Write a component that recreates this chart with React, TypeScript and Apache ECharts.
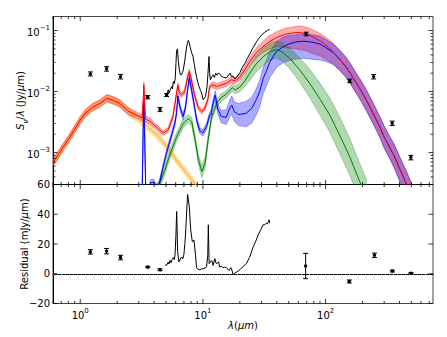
import React, { useEffect, useRef } from "react";
import * as echarts from "echarts";

const FONT = "DejaVu Sans";

// ---------- data ----------
// rows: [wavelength (um), S/lambda (Jy/um), band up (dex), band down (dex)]
const stellarModel: number[][] = [
  [0.6, 6.8e-4, 0.06, 0.06], [0.7, 1.1e-3, 0.06, 0.06], [0.8, 1.65e-3, 0.06, 0.06],
  [0.9, 2.4e-3, 0.06, 0.06], [1.0, 3.4e-3, 0.06, 0.06], [1.1, 4.4e-3, 0.06, 0.06],
  [1.25, 5.5e-3, 0.06, 0.06], [1.45, 6.4e-3, 0.06, 0.06], [1.65, 7.8e-3, 0.06, 0.06],
  [1.85, 7.2e-3, 0.06, 0.06], [2.1, 6.4e-3, 0.06, 0.06], [2.45, 4.8e-3, 0.06, 0.06],
  [3.0, 3.5e-3, 0.06, 0.06], [3.5, 2.7e-3, 0.06, 0.06], [4.2, 1.95e-3, 0.06, 0.06],
  [5.0, 1.3e-3, 0.06, 0.06], [6.0, 7.8e-4, 0.06, 0.06], [7.0, 5.2e-4, 0.06, 0.06],
  [8.0, 3.7e-4, 0.06, 0.06], [9.0, 2.7e-4, 0.06, 0.06], [10.0, 2.0e-4, 0.06, 0.06],
];

const totalModel: number[][] = [
  [0.6, 6.8e-4, 0.06, 0.06], [0.7, 1.1e-3, 0.06, 0.06], [0.8, 1.65e-3, 0.06, 0.06],
  [0.9, 2.4e-3, 0.06, 0.06], [1.0, 3.4e-3, 0.06, 0.06], [1.1, 4.4e-3, 0.06, 0.06],
  [1.25, 5.5e-3, 0.06, 0.06], [1.45, 6.4e-3, 0.06, 0.06], [1.65, 7.8e-3, 0.06, 0.06],
  [1.85, 7.2e-3, 0.06, 0.06], [2.1, 6.4e-3, 0.06, 0.06], [2.45, 4.8e-3, 0.06, 0.06],
  [3.0, 3.95e-3, 0.05, 0.05], [3.2, 3.7e-3, 0.05, 0.05], [3.27, 8e-3, 0.05, 0.05],
  [3.3, 0.013, 0.05, 0.05], [3.33, 8e-3, 0.05, 0.05], [3.4, 3.55e-3, 0.05, 0.05],
  [3.7, 3.25e-3, 0.05, 0.05], [4.2, 2.6e-3, 0.04, 0.04], [4.75, 2.1e-3, 0.04, 0.04],
  [5.2, 2.35e-3, 0.04, 0.04], [5.7, 3.9e-3, 0.04, 0.04], [6.05, 8.5e-3, 0.04, 0.04],
  [6.25, 0.0128, 0.04, 0.04], [6.45, 9.5e-3, 0.04, 0.04], [6.7, 8.8e-3, 0.04, 0.04],
  [7.1, 0.01, 0.04, 0.04], [7.5, 0.0175, 0.04, 0.04], [7.75, 0.0213, 0.04, 0.04],
  [8.0, 0.0165, 0.04, 0.04], [8.3, 0.0115, 0.04, 0.04], [8.6, 8.3e-3, 0.04, 0.04],
  [9.2, 5.4e-3, 0.04, 0.04], [9.8, 4.7e-3, 0.04, 0.04], [10.4, 5.4e-3, 0.04, 0.04],
  [11.0, 7.6e-3, 0.04, 0.04], [11.3, 0.0115, 0.04, 0.04], [11.6, 0.0125, 0.04, 0.04],
  [12.1, 0.0129, 0.05, 0.05], [12.9, 0.0121, 0.05, 0.05], [14.1, 0.0129, 0.05, 0.05],
  [15.5, 0.0136, 0.05, 0.05], [16.6, 0.015, 0.05, 0.05], [17.2, 0.0157, 0.05, 0.05],
  [18.2, 0.0148, 0.05, 0.05], [20, 0.0172, 0.05, 0.05], [22, 0.023, 0.06, 0.06],
  [24.1, 0.031, 0.07, 0.07], [27, 0.042, 0.08, 0.08], [30, 0.052, 0.09, 0.09],
  [35, 0.066, 0.1, 0.12], [40, 0.077, 0.1, 0.15], [47, 0.087, 0.1, 0.22],
  [55, 0.092, 0.1, 0.26], [62, 0.093, 0.11, 0.28], [70, 0.088, 0.11, 0.28],
  [80, 0.077, 0.12, 0.27], [90, 0.068, 0.12, 0.25], [100, 0.058, 0.13, 0.23],
  [115, 0.045, 0.14, 0.2], [130, 0.034, 0.15, 0.18], [145, 0.026, 0.16, 0.17],
  [160, 0.0195, 0.16, 0.17], [175, 0.0145, 0.16, 0.17], [190, 0.0112, 0.16, 0.17],
  [215, 7.2e-3, 0.17, 0.17], [245, 4.3e-3, 0.17, 0.17], [275, 2.7e-3, 0.17, 0.17],
  [300, 1.8e-3, 0.18, 0.18], [330, 1.25e-3, 0.18, 0.18], [360, 9e-4, 0.19, 0.19],
  [400, 5.5e-4, 0.2, 0.2], [430, 4e-4, 0.2, 0.2], [460, 2.9e-4, 0.21, 0.21],
  [500, 1.9e-4, 0.22, 0.22],
];

const warmDustModel: number[][] = [
  [3.0, 1e-5, 0.05, 0.05], [3.2, 2.5e-4, 0.05, 0.05], [3.26, 2.5e-3, 0.05, 0.05],
  [3.3, 6.5e-3, 0.05, 0.05], [3.34, 2.5e-3, 0.05, 0.05], [3.42, 2.5e-4, 0.05, 0.05],
  [3.55, 2.2e-4, 0.05, 0.05], [3.75, 3.2e-4, 0.05, 0.05], [3.95, 3.3e-4, 0.05, 0.05],
  [4.15, 2.7e-4, 0.05, 0.05], [4.4, 3.0e-4, 0.05, 0.05], [4.7, 5.5e-4, 0.05, 0.05],
  [5.06, 1.0e-3, 0.05, 0.05], [5.5, 1.8e-3, 0.05, 0.05], [5.9, 3.0e-3, 0.05, 0.05],
  [6.1, 4.5e-3, 0.05, 0.05], [6.25, 8.5e-3, 0.05, 0.05], [6.4, 6.5e-3, 0.05, 0.05],
  [6.6, 5.0e-3, 0.05, 0.05], [6.9, 3.9e-3, 0.05, 0.05], [7.2, 5.4e-3, 0.05, 0.05],
  [7.5, 0.0107, 0.05, 0.05], [7.75, 0.017, 0.05, 0.05], [8.05, 0.011, 0.05, 0.05],
  [8.35, 7.3e-3, 0.05, 0.05], [8.9, 3.4e-3, 0.05, 0.05], [9.4, 2.3e-3, 0.05, 0.05],
  [10.0, 2.1e-3, 0.05, 0.05], [10.7, 2.7e-3, 0.05, 0.05], [11.3, 4.0e-3, 0.05, 0.05],
  [11.6, 4.3e-3, 0.05, 0.05], [12.0, 6.0e-3, 0.06, 0.06], [12.6, 8.8e-3, 0.07, 0.07],
  [13.2, 5.2e-3, 0.08, 0.08], [14.1, 3.9e-3, 0.1, 0.1], [15.5, 3.8e-3, 0.12, 0.12],
  [16.6, 5.4e-3, 0.14, 0.14], [17.2, 6.0e-3, 0.15, 0.15], [18, 4.7e-3, 0.16, 0.16],
  [19.5, 4.2e-3, 0.18, 0.18], [22.5, 4.4e-3, 0.2, 0.22], [25, 5.3e-3, 0.18, 0.24],
  [27.3, 7.5e-3, 0.18, 0.25], [29, 0.01, 0.18, 0.25], [31, 0.0165, 0.18, 0.25],
  [33, 0.022, 0.18, 0.25], [35, 0.03, 0.18, 0.25], [37.5, 0.038, 0.16, 0.26],
  [40, 0.046, 0.16, 0.26], [45, 0.054, 0.16, 0.26], [50, 0.06, 0.14, 0.27],
  [57, 0.065, 0.12, 0.28], [65, 0.067, 0.12, 0.28], [72, 0.066, 0.12, 0.28],
  [80, 0.064, 0.12, 0.28], [90, 0.06, 0.13, 0.26], [100, 0.053, 0.13, 0.23],
  [115, 0.044, 0.14, 0.2], [130, 0.034, 0.15, 0.18], [145, 0.026, 0.16, 0.17],
  [160, 0.0195, 0.16, 0.17], [175, 0.0145, 0.16, 0.17], [190, 0.0112, 0.16, 0.17],
  [215, 7.2e-3, 0.17, 0.17], [245, 4.3e-3, 0.17, 0.17], [275, 2.7e-3, 0.17, 0.17],
  [300, 1.8e-3, 0.18, 0.18], [330, 1.25e-3, 0.18, 0.18], [360, 9e-4, 0.19, 0.19],
  [400, 5.5e-4, 0.2, 0.2], [430, 4e-4, 0.2, 0.2], [460, 2.9e-4, 0.21, 0.21],
  [500, 1.9e-4, 0.22, 0.22],
];

const coldDustModel: number[][] = [
  [4.0, 2.0e-4, 0.07, 0.07], [4.47, 3.2e-4, 0.07, 0.07], [4.9, 5.2e-4, 0.07, 0.07],
  [5.4, 9.5e-4, 0.07, 0.07], [6.1, 1.8e-3, 0.07, 0.07], [6.9, 3.0e-3, 0.07, 0.07],
  [7.6, 3.6e-3, 0.07, 0.07], [8.1, 3.2e-3, 0.07, 0.07], [8.6, 1.7e-3, 0.07, 0.07],
  [9.2, 7.6e-4, 0.08, 0.08], [9.8, 4.9e-4, 0.1, 0.1], [10.4, 6.7e-4, 0.09, 0.09],
  [11.1, 1.8e-3, 0.07, 0.07], [11.8, 3.9e-3, 0.06, 0.06], [12.9, 6.3e-3, 0.06, 0.06],
  [14.1, 8.0e-3, 0.06, 0.06], [15.5, 9.0e-3, 0.06, 0.06], [16.6, 0.0105, 0.06, 0.06],
  [17.4, 0.0116, 0.06, 0.06], [18.3, 0.0106, 0.06, 0.06], [20, 0.0118, 0.07, 0.07],
  [22, 0.015, 0.09, 0.09], [24.1, 0.02, 0.12, 0.12], [27, 0.028, 0.13, 0.13],
  [30.9, 0.037, 0.14, 0.14], [35, 0.045, 0.14, 0.14], [39.5, 0.049, 0.14, 0.14],
  [44, 0.045, 0.15, 0.15], [51, 0.035, 0.17, 0.17], [61.5, 0.0227, 0.2, 0.2],
  [74, 0.0137, 0.23, 0.23], [89, 7.8e-3, 0.26, 0.26], [108, 4.15e-3, 0.28, 0.28],
  [130, 1.94e-3, 0.3, 0.3], [157, 8.6e-4, 0.3, 0.3], [189, 3.4e-4, 0.3, 0.3],
  [215, 1.8e-4, 0.3, 0.3],
];

// [wavelength, S/lambda]
const irsSpectrum: number[][] = [
  [5.0, 8.5e-3], [5.1, 9.2e-3], [5.22, 0.0107], [5.3, 9.5e-3], [5.4, 0.0105], [5.56, 0.0121],
  [5.65, 0.011], [5.74, 0.0146], [5.85, 0.0135], [5.95, 0.0166], [6.03, 0.029], [6.1, 0.046],
  [6.2, 0.05], [6.3, 0.032], [6.42, 0.0227], [6.55, 0.019], [6.7, 0.0188], [6.8, 0.0205],
  [6.92, 0.0227], [7.13, 0.033], [7.36, 0.054], [7.5, 0.064], [7.6, 0.069], [7.75, 0.062],
  [7.9, 0.052], [8.1, 0.043], [8.3, 0.038], [8.5, 0.028], [8.7, 0.021], [8.87, 0.0176],
  [9.1, 0.014], [9.3, 0.0121], [9.55, 0.0105], [9.78, 9.4e-3], [10.05, 7.3e-3], [10.3, 7.8e-3],
  [10.5, 8.3e-3], [10.8, 0.0121], [11.0, 0.02], [11.2, 0.0375], [11.35, 0.02], [11.5, 0.0156],
  [11.8, 0.0175], [12.1, 0.0188], [12.4, 0.017], [12.7, 0.02], [13.0, 0.0185], [13.3, 0.02],
  [13.7, 0.0195], [14.2, 0.0176], [14.8, 0.0172], [15.5, 0.0166], [16.0, 0.018], [16.6, 0.02],
  [17.1, 0.0176], [17.6, 0.018], [18.2, 0.016], [18.8, 0.0172], [20, 0.0205], [21, 0.025],
  [22, 0.029], [23, 0.035], [24.1, 0.0415], [25.3, 0.05], [26.4, 0.058], [27.7, 0.068],
  [29.1, 0.078], [30.5, 0.087], [31.9, 0.094], [33.5, 0.1], [35, 0.105],
];

// [wavelength, S/lambda, error]
const photometry: number[][] = [
  [1.21, 0.0195, 0.0015], [1.64, 0.0236, 0.002], [2.13, 0.0176, 0.0015],
  [3.55, 8.1e-3, 5e-4], [4.47, 5.1e-3, 4e-4], [5.06, 8.8e-3, 5e-4],
  [69.5, 0.088, 0.006], [157, 0.015, 0.001], [246, 0.0176, 0.0015],
  [349, 3.03e-3, 2.5e-4], [495, 8.3e-4, 7e-5],
];

// residuals in mJy/um: [wavelength, residual]
const residualSpectrum: number[][] = [
  [4.91, 6.1], [5.05, 5.5], [5.22, 7.9], [5.3, 6.5], [5.39, 9], [5.5, 7.5], [5.6, 9.5],
  [5.74, 10.9], [5.85, 9.5], [5.92, 12.4], [6.02, 25], [6.11, 41.9], [6.16, 30], [6.22, 15],
  [6.38, 7.9], [6.55, 10], [6.7, 11.3], [6.85, 10], [7.0, 13], [7.13, 20.4], [7.25, 30],
  [7.36, 40.8], [7.5, 53.3], [7.6, 50], [7.74, 45.3], [7.95, 29.5], [8.2, 21.5], [8.45, 22.7],
  [8.7, 12.4], [8.87, 4.1], [9.1, 3], [9.43, 2.7], [9.7, 3.2], [10.05, 3.4], [10.4, 3.8],
  [10.7, 4.5], [10.95, 12], [11.07, 32.9], [11.2, 12], [11.25, 6.8], [11.5, 8], [11.8, 9],
  [12.1, 5.6], [12.5, 10.2], [12.8, 7], [13.0, 6.8], [13.4, 8], [13.7, 4.5], [14.2, 5],
  [14.6, 4.1], [15.0, 4.5], [15.5, 4.1], [16.0, 3], [16.3, 2.2], [16.9, 4.1], [17.3, 2],
  [17.6, -0.5], [18.2, 0.5], [18.8, 1.1], [20, 2.7], [21, 4.5], [22.6, 6.8], [24, 11],
  [25.7, 18.1], [27, 22], [28.2, 26.1], [30, 30.5], [30.9, 32.9], [32, 33], [32.8, 34],
  [33.5, 33.5], [34.2, 35], [34.6, 36.3], [35, 34],
];

// [wavelength, residual, error]
const residualPhotometry: number[][] = [
  [1.21, 14.7, 1.5], [1.64, 15.2, 1.8], [2.13, 10.9, 1.5], [3.55, 4.5, 0.5], [4.47, 2.7, 0.6],
  [68.7, 5.2, 8.5], [156, -5.2, 1.0], [250, 12.4, 1.5], [350, 1.8, 0.6], [496, 0.4, 0.4],
];

// tick positions
const xMajorTicks = [1, 10, 100];
const xMinorTicks = [0.6, 0.7, 0.8, 0.9, 2, 3, 4, 5, 6, 7, 8, 9, 20, 30, 40, 50, 60, 70, 80, 90, 200, 300, 400, 500, 600, 700];
const yMajorTicksTop = [1e-3, 1e-2, 1e-1];
const yMinorTicksTop = [
  4e-4, 5e-4, 6e-4, 7e-4, 8e-4, 9e-4,
  2e-3, 3e-3, 4e-3, 5e-3, 6e-3, 7e-3, 8e-3, 9e-3,
  2e-2, 3e-2, 4e-2, 5e-2, 6e-2, 7e-2, 8e-2, 9e-2,
];
const yTicksBottom = [-20, 0, 20, 40, 60];

// ---------- helpers ----------
const MINUS = "\u2212";

function logLabel(v: number): string {
  const e = Math.log10(v);
  const r = Math.round(e);
  if (Math.abs(e - r) > 1e-6) return "";
  return `{b|10}{sup|${r < 0 ? MINUS + -r : r}}`;
}

const supRich = {
  b: { fontSize: 10, fontFamily: FONT, color: "#000", lineHeight: 13, verticalAlign: "bottom" },
  sup: { fontSize: 7, fontFamily: FONT, color: "#000", lineHeight: 13, verticalAlign: "top" },
};

function bandSeries(rows: number[][], fill: string, gi: number, z: number) {
  return {
    type: "custom",
    xAxisIndex: gi,
    yAxisIndex: gi,
    clip: true,
    silent: true,
    z,
    encode: { x: 0, y: 1 },
    data: rows.map((r) => [r[0], r[1]]),
    renderItem: (params: any, api: any) => {
      if (params.dataIndex !== 0) return;
      const upper = rows.map((r) => api.coord([r[0], r[1] * Math.pow(10, r[2])]));
      const lower = rows.map((r) => api.coord([r[0], r[1] / Math.pow(10, r[3])])).reverse();
      return {
        type: "polygon",
        shape: { points: upper.concat(lower) },
        style: { fill, stroke: fill, lineWidth: 1 },
      };
    },
  };
}

function lineSeries(rows: number[][], color: string, gi: number, z: number, extra: any = {}) {
  return {
    type: "line",
    xAxisIndex: gi,
    yAxisIndex: gi,
    data: rows.map((r) => [r[0], r[1]]),
    showSymbol: false,
    symbol: "none",
    clip: true,
    silent: true,
    z,
    lineStyle: { color, width: 1 },
    ...extra,
  };
}

function errorSeries(rows: number[][], gi: number) {
  return {
    type: "custom",
    xAxisIndex: gi,
    yAxisIndex: gi,
    silent: true,
    z: 20,
    encode: { x: 0, y: 1 },
    data: rows,
    renderItem: (_p: any, api: any) => {
      const x = api.value(0);
      const y = api.value(1);
      const e = api.value(2);
      const c = api.coord([x, y]);
      const lo = api.coord([x, y - e]);
      const hi = api.coord([x, y + e]);
      const cap = 2.5;
      const st = { stroke: "#000", lineWidth: 1 };
      return {
        type: "group",
        children: [
          { type: "line", shape: { x1: c[0], y1: lo[1], x2: c[0], y2: hi[1] }, style: st },
          { type: "line", shape: { x1: c[0] - cap, y1: hi[1], x2: c[0] + cap, y2: hi[1] }, style: st },
          { type: "line", shape: { x1: c[0] - cap, y1: lo[1], x2: c[0] + cap, y2: lo[1] }, style: st },
          { type: "circle", shape: { cx: c[0], cy: c[1], r: 1.7 }, style: { fill: "#000" } },
        ],
      };
    },
  };
}

function tickSeries(gi: number, refPoint: number[], xMaj: number[], xMin: number[], yMaj: number[], yMin: number[]) {
  return {
    type: "custom",
    xAxisIndex: gi,
    yAxisIndex: gi,
    silent: true,
    z: 30,
    encode: { x: 0, y: 1 },
    data: [refPoint],
    renderItem: (params: any, api: any) => {
      const cs = params.coordSys;
      const top = cs.y;
      const bot = cs.y + cs.height;
      const left = cs.x;
      const right = cs.x + cs.width;
      const ch: any[] = [];
      const st = { stroke: "#000", lineWidth: 0.8 };
      const add = (x1: number, y1: number, x2: number, y2: number) =>
        ch.push({ type: "line", shape: { x1, y1, x2, y2 }, style: st });
      xMaj.forEach((v) => {
        const x = api.coord([v, refPoint[1]])[0];
        add(x, bot, x, bot - 4.5);
        add(x, top, x, top + 4.5);
      });
      xMin.forEach((v) => {
        const x = api.coord([v, refPoint[1]])[0];
        add(x, bot, x, bot - 2.5);
        add(x, top, x, top + 2.5);
      });
      yMaj.forEach((v) => {
        const y = api.coord([refPoint[0], v])[1];
        add(left, y, left + 4.5, y);
        add(right, y, right - 4.5, y);
      });
      yMin.forEach((v) => {
        const y = api.coord([refPoint[0], v])[1];
        add(left, y, left + 2.5, y);
        add(right, y, right - 2.5, y);
      });
      return { type: "group", children: ch };
    },
  };
}

const ORANGE_FILL = "rgba(255,165,0,0.35)";
const RED_FILL = "rgba(255,0,0,0.33)";
const BLUE_FILL = "rgba(0,0,255,0.33)";
const GREEN_FILL = "rgba(0,128,0,0.3)";

export default function App() {
  const ref = useRef<HTMLDivElement>(null);

  useEffect(() => {
    if (!ref.current) return;
    const chart = echarts.init(ref.current, undefined, { renderer: "svg" });

    const baseX = {
      type: "log",
      logBase: 10,
      min: 0.6,
      max: 750,
      axisTick: { show: false },
      splitLine: { show: false },
      axisLine: { show: true, lineStyle: { color: "#000", width: 1 } },
    };

    const option: any = {
      animation: false,
      backgroundColor: "#fff",
      grid: [
        { left: 53, top: 16.5, width: 380, height: 168, show: true, borderColor: "#444", borderWidth: 1, containLabel: false, outerBoundsMode: "none" },
        { left: 53, top: 184.5, width: 380, height: 119, show: true, borderColor: "#444", borderWidth: 1, containLabel: false, outerBoundsMode: "none" },
      ],
      xAxis: [
        { ...baseX, gridIndex: 0, axisLabel: { show: false } },
        {
          ...baseX,
          gridIndex: 1,
          axisLabel: { formatter: logLabel, rich: supRich, margin: 4 },
          name: "{i|λ}{n|(}{i|μm}{n|)}",
          nameLocation: "middle",
          nameGap: 17,
          nameMoveOverlap: false,
          nameTextStyle: {
            rich: {
              i: { fontSize: 10, fontFamily: FONT, fontStyle: "italic", color: "#000" },
              n: { fontSize: 10, fontFamily: FONT, color: "#000" },
            },
          },
        },
      ],
      yAxis: [
        {
          type: "log",
          logBase: 10,
          gridIndex: 0,
          min: 3e-4,
          max: 0.17,
          axisTick: { show: false },
          splitLine: { show: false },
          axisLine: { show: true, lineStyle: { color: "#000", width: 1 } },
          axisLabel: { formatter: logLabel, rich: supRich, margin: 3 },
          name: "{i|S}{sub|ν}{n|/}{i|λ}{n| (Jy/}{i|μ}{n|m)}",
          nameLocation: "middle",
          nameGap: 24,
          nameMoveOverlap: false,
          nameRotate: 90,
          nameTextStyle: {
            rich: {
              i: { fontSize: 10, fontFamily: FONT, fontStyle: "italic", color: "#000", lineHeight: 14, verticalAlign: "top" },
              n: { fontSize: 10, fontFamily: FONT, color: "#000", lineHeight: 14, verticalAlign: "top" },
              sub: { fontSize: 7, fontFamily: FONT, fontStyle: "italic", color: "#000", lineHeight: 14, verticalAlign: "bottom" },
            },
          },
        },
        {
          type: "value",
          gridIndex: 1,
          min: -20,
          max: 60,
          interval: 20,
          axisTick: { show: false },
          splitLine: { show: false },
          axisLine: { show: true, lineStyle: { color: "#000", width: 1 } },
          axisLabel: {
            formatter: (v: number) => (v < 0 ? MINUS + -v : String(v)),
            fontSize: 10,
            fontFamily: FONT,
            color: "#000",
            margin: 3,
          },
          name: "{n|Residual (mJy/}{i|μ}{n|m)}",
          nameLocation: "middle",
          nameGap: 24,
          nameMoveOverlap: false,
          nameRotate: 90,
          nameTextStyle: {
            rich: {
              i: { fontSize: 10, fontFamily: FONT, fontStyle: "italic", color: "#000" },
              n: { fontSize: 10, fontFamily: FONT, color: "#000" },
            },
          },
        },
      ],
      series: [
        bandSeries(stellarModel, ORANGE_FILL, 0, 2),
        bandSeries(totalModel, RED_FILL, 0, 2),
        bandSeries(warmDustModel, BLUE_FILL, 0, 2),
        bandSeries(coldDustModel, GREEN_FILL, 0, 2),
        lineSeries(stellarModel, "#ffa500", 0, 5),
        lineSeries(coldDustModel, "#008000", 0, 5),
        lineSeries(warmDustModel, "#0000ff", 0, 5),
        lineSeries(totalModel, "#ff0000", 0, 5),
        lineSeries(irsSpectrum, "#000000", 0, 6),
        errorSeries(photometry, 0),
        lineSeries(residualSpectrum, "#000000", 1, 6, {
          markLine: {
            silent: true,
            symbol: ["none", "none"],
            label: { show: false },
            lineStyle: { type: [1, 3], color: "#999", width: 1 },
            data: [{ yAxis: 0 }],
          },
        }),
        errorSeries(residualPhotometry, 1),
        tickSeries(0, [1, 0.01], xMajorTicks, xMinorTicks, yMajorTicksTop, yMinorTicksTop),
        tickSeries(1, [1, 0], xMajorTicks, xMinorTicks, yTicksBottom, []),
      ],
    };

    chart.setOption(option);
    return () => chart.dispose();
  }, []);

  return (
    <div
      ref={ref}
      style={{ position: "absolute", left: 0, top: 0, width: 447, height: 337, background: "#fff" }}
    />
  );
}
